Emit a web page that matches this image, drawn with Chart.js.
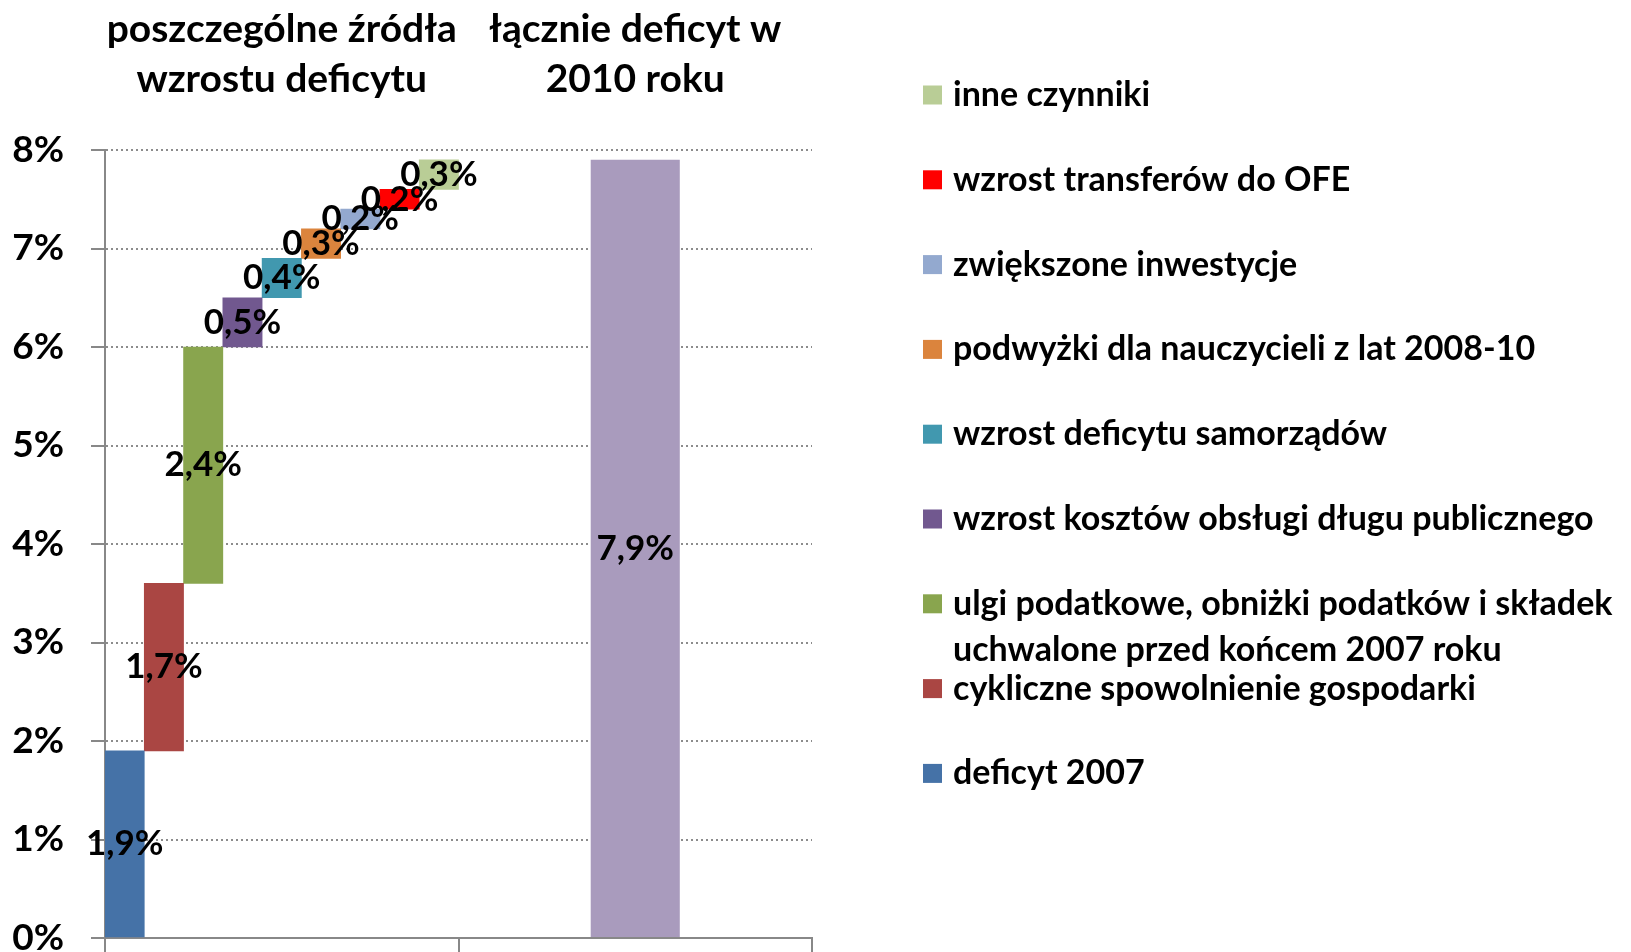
<!DOCTYPE html>
<html>
<head>
<meta charset="utf-8">
<script src="https://cdn.jsdelivr.net/npm/chart.js@4"></script>
<style>
  body { margin: 0; background: #fff; }
  #wrap { width: 1631px; height: 952px; }
</style>
</head>
<body>
<div id="wrap"><canvas id="chart"></canvas></div>
<script>
// DANE
const categories = [
  ['poszczególne źródła', 'wzrostu deficytu'],
  ['łącznie deficyt w', '2010 roku']
];
const sourceNames = [
  'deficyt 2007',
  'cykliczne spowolnienie gospodarki',
  ['ulgi podatkowe, obniżki podatków i składek', 'uchwalone przed końcem 2007 roku'],
  'wzrost kosztów obsługi długu publicznego',
  'wzrost deficytu samorządów',
  'podwyżki dla nauczycieli z lat 2008-10',
  'zwiększone inwestycje',
  'wzrost transferów do OFE',
  'inne czynniki'
];
const sourceValues = [1.9, 1.7, 2.4, 0.5, 0.4, 0.3, 0.2, 0.2, 0.3];
const totalValue = 7.9;
const yTicks = [0, 1, 2, 3, 4, 5, 6, 7, 8];

const sourceColors = ['#4572A7', '#AA4643', '#89A54E', '#71588F', '#4198AF',
                      '#DB843D', '#93A9CF', '#FF0000', '#B9CD96'];
const totalColor = '#A99BBD';
const FONT = 'Lato, "Open Sans", sans-serif';

function fmt(v) {
  return v.toFixed(1).replace('.', ',') + '%';
}

// WATERFALL - kolejne przedzialy
const datasets = [];
let start = 0;
sourceValues.forEach((v, i) => {
  const end = Math.round((start + v) * 10) / 10;
  datasets.push({
    label: sourceNames[i],
    data: [[start, end], null],
    value: v,
    backgroundColor: sourceColors[i],
    barPercentage: 1,
    categoryPercentage: 1
  });
  start = end;
});
datasets.push({
  label: 'łącznie',
  data: [null, [0, totalValue]],
  value: totalValue,
  backgroundColor: totalColor,
  barPercentage: 0.252,
  categoryPercentage: 1,
  isTotal: true
});

// ETYKIETY NA SLUPKACH
const barLabels = {
  id: 'barLabels',
  afterDatasetsDraw(chart) {
    const ctx = chart.ctx;
    ctx.save();
    ctx.font = 'bold 35px ' + FONT;
    ctx.fillStyle = '#000';
    ctx.textAlign = 'center';
    ctx.textBaseline = 'middle';
    chart.data.datasets.forEach((ds, di) => {
      const meta = chart.getDatasetMeta(di);
      meta.data.forEach((el, i) => {
        if (ds.data[i] == null) return;
        ctx.fillText(fmt(ds.value), el.x, (el.y + el.base) / 2);
      });
    });
    ctx.restore();
  }
};

// LEGENDA PO PRAWEJ
const sideLegend = {
  id: 'sideLegend',
  afterDraw(chart) {
    const ctx = chart.ctx;
    const boxX = chart.chartArea.right + 111;
    const textX = boxX + 30;
    const top = 95;
    const step = 84.8;
    ctx.save();
    ctx.font = 'bold 34px ' + FONT;
    ctx.textBaseline = 'middle';
    ctx.textAlign = 'left';
    const items = chart.data.datasets.filter(d => !d.isTotal).slice().reverse();
    items.forEach((d, k) => {
      const y = top + k * step;
      ctx.fillStyle = d.backgroundColor;
      ctx.fillRect(boxX, y - 9.5, 19, 19);
      ctx.fillStyle = '#000';
      const lines = Array.isArray(d.label) ? d.label : [d.label];
      lines.forEach((t, j) => ctx.fillText(t, textX, y + j * 46));
    });
    ctx.restore();
  }
};

new Chart(document.getElementById('chart'), {
  type: 'bar',
  data: { labels: categories, datasets: datasets },
  options: {
    responsive: true,
    maintainAspectRatio: false,
    animation: false,
    skipNull: true,
    layout: { padding: { left: 0, right: 819, top: 0, bottom: 0 } },
    plugins: {
      legend: { display: false },
      tooltip: { enabled: false }
    },
    scales: {
      x: {
        position: 'bottom',
        offset: true,
        afterFit(scale) { scale.height = 14; },
        grid: { display: true, offset: true, drawOnChartArea: false, tickLength: 14, color: '#888', lineWidth: 2 },
        border: { display: true, color: '#888', width: 2 },
        ticks: { display: false }
      },
      x2: {
        type: 'category',
        position: 'top',
        offset: true,
        afterFit(scale) { scale.height = 150; },
        grid: { display: false, drawTicks: false },
        border: { display: false },
        ticks: {
          color: '#000',
          font: { family: FONT, size: 39, weight: 'bold', lineHeight: 1.28 },
          padding: 46,
          maxRotation: 0
        }
      },
      y: {
        min: 0,
        max: 8,
        afterFit(scale) {
          scale.width = 105;
          scale.paddingTop = 0;
          scale.paddingBottom = 0;
        },
        afterBuildTicks(scale) { scale.ticks = yTicks.map(v => ({ value: v })); },
        grid: {
          color: '#8c8c8c',
          lineWidth: 2,
          tickLength: 14,
          tickColor: '#888',
          tickBorderDash: []
        },
        border: { display: true, color: '#888', width: 2, dash: [2, 3] },
        ticks: {
          color: '#000',
          font: { family: FONT, size: 37, weight: 'bold' },
          padding: 27,
          callback: v => v + '%'
        }
      }
    }
  },
  plugins: [barLabels, sideLegend]
});
</script>
</body>
</html>
